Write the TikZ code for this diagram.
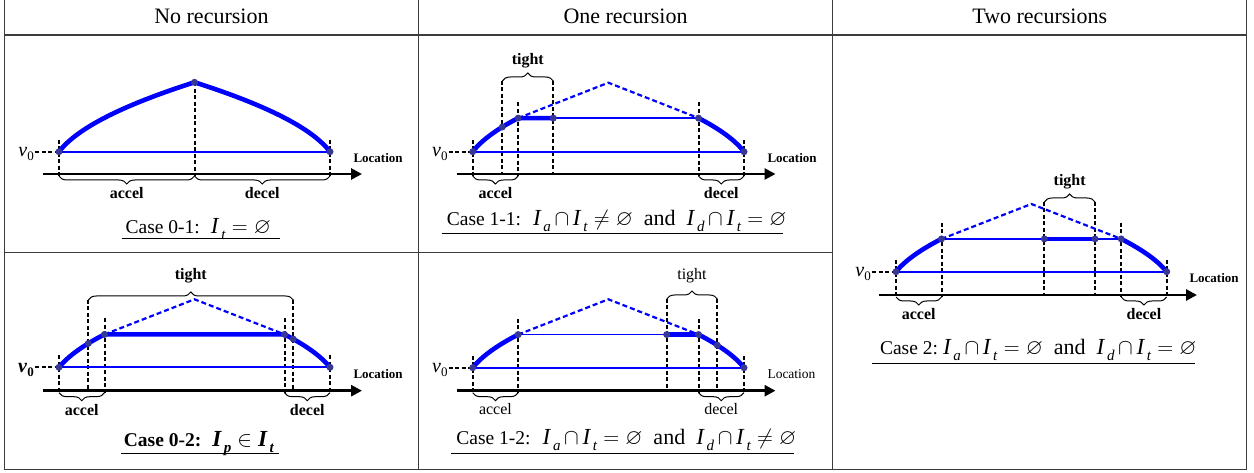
\documentclass[tikz,border=0pt]{standalone}
\usepackage{fix-cm}
\usepackage{fontspec}
\setmainfont{Liberation Serif}
\usepackage{amssymb}
\usetikzlibrary{arrows.meta,decorations.pathreplacing}
\definecolor{vblue}{RGB}{0,0,255}
\definecolor{dotblue}{RGB}{55,55,150}
\definecolor{gridc}{RGB}{60,60,60}
\pgfmathdeclarefunction{vel}{5}{%
  \begingroup\pgfmathparse{sqrt(#4*#4+(#1-#2)/#3*(#5*#5-#4*#4))}\pgfmathsmuggle\pgfmathresult\endgroup}
\newcommand\setpanel[5]{%
  \def\xa{#1}\def\xe{#2}\def\yb{#3}\def\va{#4}\def\vp{#5}%
  \pgfmathsetmacro\hl{(#2-#1)/2}%
  \pgfmathsetmacro\xp{(#1+#2)/2}%
  \pgfmathsetmacro\xk{#1+45.5}%
  \pgfmathsetmacro\xd{#2-45.5}%
  \pgfmathsetmacro\yk{#3-vel(\xk,#1,\hl,#4,#5)}%
  \pgfmathsetmacro\yv{#3-#4}%
  \pgfmathsetmacro\ypk{#3-#5}}
\newcommand\ya[1]{\yb-vel(#1,\xa,\hl,\va,\vp)}
\newcommand\yd[1]{\yb-vel(\xa+\xe-(#1),\xa,\hl,\va,\vp)}
\newcommand\M[1]{{\fontsize{22}{24}\selectfont#1}}
\newcommand\Iv[1]{{\fontsize{23}{24}\selectfont\textit{I}}\kern1.8pt\raisebox{-6pt}{\fontsize{15}{15}\selectfont\textit{#1}}}
\newcommand\vz{{\fontsize{20}{22}\selectfont\textit{v}}\raisebox{-4pt}{\fontsize{13}{13}\selectfont 0}}
\begin{document}
\begin{tikzpicture}[x=1pt,y=-1pt,
  thickv/.style={draw=vblue,line width=4.6pt,line join=round},
  thinv/.style={draw=vblue,line width=2pt},
  dashv/.style={draw=vblue,line width=2.2pt,dash pattern=on 5pt off 3pt},
  vdash/.style={draw=black,line width=2pt,dash pattern=on 4pt off 2.5pt},
  axisline/.style={draw=black,line width=2.8pt,-{Triangle[length=11pt,width=11pt]}},
  bracebelow/.style={draw=black,line width=1pt,decorate,decoration={brace,mirror,amplitude=8pt}},
  braceabove/.style={draw=black,line width=1pt,decorate,decoration={brace,amplitude=8pt}},
  dotc/.style={fill=dotblue,circle,inner sep=0pt,minimum size=7pt},
  tgrid/.style={draw=gridc,line width=1.4pt},
  hdr/.style={font=\fontsize{22}{24}\selectfont,anchor=base,inner sep=0pt},
  lab/.style={font=\fontsize{16}{18}\selectfont\bfseries,anchor=base,inner sep=0pt},
  labr/.style={font=\fontsize{16}{18}\selectfont,anchor=base,inner sep=0pt},
  loc/.style={font=\fontsize{13}{15}\selectfont\bfseries,anchor=base west,inner sep=0pt},
  locr/.style={font=\fontsize{13.5}{15}\selectfont,anchor=base west,inner sep=0pt},
  vlab/.style={anchor=base east,inner sep=0pt},
  capt/.style={font=\fontsize{19.5}{22}\selectfont,anchor=base,inner sep=0pt},
  uline/.style={draw=black,line width=0.9pt},
]
\useasboundingbox (0,0) rectangle (1254,473);
% ---------- table ----------
\draw[tgrid] (4.5,0) -- (4.5,469.3) -- (1246.7,469.3) -- (1246.7,0);
\draw[tgrid,line width=2pt] (4.5,35) -- (1246.7,35);
\draw[tgrid] (418.3,0) -- (418.3,469.3);
\draw[tgrid] (832.7,0) -- (832.7,469.3);
\draw[tgrid] (4.5,252.7) -- (832.7,252.7);
\node[hdr] (h1) at (211.4,24) {No recursion};
\node[hdr] (h2) at (625.5,24) {One recursion};
\node[hdr] (h3) at (1039.7,24) {Two recursions};

% ---------- Panel A: Case 0-1 ----------
\setpanel{59}{330}{174}{22.3}{91.7}
\coordinate (a-s) at (\xa,\yv);
\coordinate (a-p) at (\xp,\ypk);
\coordinate (a-e) at (\xe,\yv);
\coordinate (a-v) at (\xa-24,\yv);
\coordinate (a-x0) at (42.7,\yb);
\coordinate (a-x1) at (362,\yb);
\draw[vdash] (\xa,\yv-12) -- (\xa,\yb+2);
\draw[vdash] (a-p) -- (\xp,\yb+2);
\draw[vdash] (\xe,\yv-12) -- (\xe,\yb+2);
\draw[vdash] (a-v) -- (a-s);
\draw[bracebelow] (\xa,\yb+2) -- (\xp,\yb+2);
\draw[bracebelow] (\xp,\yb+2) -- (\xe,\yb+2);
\draw[thinv] (a-s) -- (a-e);
\draw[thickv] plot[domain=\xa:\xp,samples=40,variable=\t] (\t,{\ya{\t}});
\draw[thickv] plot[domain=\xp:\xe,samples=40,variable=\t] (\t,{\yd{\t}});
\foreach \c in {a-s,a-p,a-e} \node[dotc] at (\c) {};
\draw[axisline] (a-x0) -- (a-x1);
\node[vlab] (a-vl) at (\xa-25,\yv+5) {\vz};
\node[loc] (a-loc) at (353.3,162.7) {Location};
\node[lab] (a-acc) at ({(\xa+\xp)/2},199) {accel};
\node[lab] (a-dec) at ({(\xp+\xe)/2},199) {decel};
\node[capt] (a-cap) at (198.3,233.3) {Case 0-1:\hspace{11pt}\Iv{t}\M{$\;=\varnothing$}};
\draw[uline] (121.7,238.3) -- (280,238.3);

% ---------- Panel B: Case 1-1 ----------
\setpanel{472.7}{744}{174}{22.3}{91.3}
\coordinate (b-s) at (\xa,\yv);
\coordinate (b-p) at (\xp,\ypk);
\coordinate (b-e) at (\xe,\yv);
\coordinate (b-k) at (\xk,\yk);
\coordinate (b-d) at (\xd,\yk);
\coordinate (b-t1) at (502.3,{\ya{502.3}});
\coordinate (b-t2) at (553.3,\yk);
\coordinate (b-v) at (\xa-24,\yv);
\coordinate (b-x0) at (456.7,\yb);
\coordinate (b-x1) at (775.5,\yb);
\draw[vdash] (\xa,\yv-12) -- (\xa,\yb+2);
\draw[vdash] (502.3,81) -- (502.3,\yb);
\draw[vdash] (\xk,\yk-16) -- (\xk,\yb+2);
\draw[vdash] (553.3,81) -- (553.3,\yb);
\draw[vdash] (\xd,\yk-16) -- (\xd,\yb+2);
\draw[vdash] (\xe,\yv-12) -- (\xe,\yb+2);
\draw[vdash] (b-v) -- (b-s);
\draw[braceabove] (502.3,81) -- (553.3,81);
\draw[bracebelow] (\xa,\yb+2) -- (\xk,\yb+2);
\draw[bracebelow] (\xd,\yb+2) -- (\xe,\yb+2);
\draw[thinv] (b-s) -- (b-e);
\draw[thinv,line width=1.6pt] (b-t2) -- (b-d);
\draw[dashv] (b-k) -- (b-p) -- (b-d);
\draw[thickv] plot[domain=\xa:\xk,samples=30,variable=\t] (\t,{\ya{\t}}) -- (b-t2);
\draw[thickv] plot[domain=\xd:\xe,samples=30,variable=\t] (\t,{\yd{\t}});
\foreach \c in {b-s,b-t1,b-k,b-t2,b-d,b-e} \node[dotc] at (\c) {};
\draw[axisline] (b-x0) -- (b-x1);
\node[vlab] (b-vl) at (\xa-25,\yv+5) {\vz};
\node[loc] (b-loc) at (767.3,162.7) {Location};
\node[lab] (b-tig) at (527.8,65) {tight};
\node[lab] (b-acc) at ({(\xa+\xk)/2},199) {accel};
\node[lab] (b-dec) at ({(\xd+\xe)/2},199) {decel};
\node[capt] (b-cap) at (616.7,226) {Case 1-1:\hspace{12pt}\Iv{a}\M{$\,\cap\,$}\Iv{t}\M{$\;\neq\varnothing$\ \ and\ \ }\Iv{d}\M{$\,\cap\,$}\Iv{t}\M{$\;=\varnothing$}};
\draw[uline] (441.7,233.3) -- (783.3,233.3);

% ---------- Panel C: Case 2 ----------
\setpanel{896}{1166.7}{295}{23.3}{91}
\coordinate (c-s) at (\xa,\yv);
\coordinate (c-p) at (\xp,\ypk);
\coordinate (c-e) at (\xe,\yv);
\coordinate (c-k) at (\xk,\yk);
\coordinate (c-d) at (\xd,\yk);
\coordinate (c-t1) at (1044.3,\yk);
\coordinate (c-t2) at (1095,\yk);
\coordinate (c-v) at (\xa-24,\yv);
\coordinate (c-x0) at (879.3,\yb);
\coordinate (c-x1) at (1197,\yb);
\draw[vdash] (\xa,\yv-12) -- (\xa,\yb+2);
\draw[vdash] (\xk,\yk-16) -- (\xk,\yb+2);
\draw[vdash] (1044.3,202) -- (1044.3,\yb);
\draw[vdash] (1095,202) -- (1095,\yb);
\draw[vdash] (\xd,\yk-16) -- (\xd,\yb+2);
\draw[vdash] (\xe,\yv-12) -- (\xe,\yb+2);
\draw[vdash] (c-v) -- (c-s);
\draw[braceabove] (1044.3,202) -- (1095,202);
\draw[bracebelow] (\xa,\yb+2) -- (\xk,\yb+2);
\draw[bracebelow] (\xd,\yb+2) -- (\xe,\yb+2);
\draw[thinv] (c-s) -- (c-e);
\draw[thinv,line width=1.6pt] (c-k) -- (c-t1);
\draw[thinv,line width=1.6pt] (c-t2) -- (c-d);
\draw[dashv] (c-k) -- (c-p) -- (c-d);
\draw[thickv] plot[domain=\xa:\xk,samples=30,variable=\t] (\t,{\ya{\t}});
\draw[thickv] (c-t1) -- (c-t2);
\draw[thickv] plot[domain=\xd:\xe,samples=30,variable=\t] (\t,{\yd{\t}});
\foreach \c in {c-s,c-k,c-t1,c-t2,c-d,c-e} \node[dotc] at (\c) {};
\draw[axisline] (c-x0) -- (c-x1);
\node[vlab] (c-vl) at (\xa-25,\yv+5) {\vz};
\node[loc] (c-loc) at (1189.3,282.7) {Location};
\node[lab] (c-tig) at (1069.7,185.7) {tight};
\node[lab] (c-acc) at ({(\xa+\xk)/2},319.3) {accel};
\node[lab] (c-dec) at ({(\xd+\xe)/2},319.3) {decel};
\node[capt] (c-cap) at (1038.3,354) {Case 2:\hspace{5pt}\Iv{a}\M{$\,\cap\,$}\Iv{t}\M{$\;=\varnothing$\ \ and\ \ }\Iv{d}\M{$\,\cap\,$}\Iv{t}\M{$\;=\varnothing$}};
\draw[uline] (872.3,363.3) -- (1195,363.3);

% ---------- Panel D: Case 0-2 ----------
\setpanel{59}{330}{390.7}{23.4}{91.4}
\coordinate (d-s) at (\xa,\yv);
\coordinate (d-p) at (\xp,\ypk);
\coordinate (d-e) at (\xe,\yv);
\coordinate (d-k) at (\xk,\yk);
\coordinate (d-d) at (\xd,\yk);
\coordinate (d-t1) at (88.3,{\ya{88.3}});
\coordinate (d-t2) at (293.3,{\yd{293.3}});
\coordinate (d-v) at (\xa-24,\yv);
\coordinate (d-x0) at (42.7,\yb);
\coordinate (d-x1) at (362,\yb);
\draw[vdash] (\xa,\yv-12) -- (\xa,\yb+2);
\draw[vdash] (88.3,300) -- (88.3,\yb);
\draw[vdash] (\xk,\yk-16) -- (\xk,\yb+2);
\draw[vdash] (\xd,\yk-16) -- (\xd,\yb+2);
\draw[vdash] (293.3,300) -- (293.3,\yb);
\draw[vdash] (\xe,\yv-12) -- (\xe,\yb+2);
\draw[vdash] (d-v) -- (d-s);
\draw[braceabove] (88.3,300) -- (293.3,300);
\draw[bracebelow] (\xa,\yb+2) -- (\xk,\yb+2);
\draw[bracebelow] (\xd,\yb+2) -- (\xe,\yb+2);
\draw[thinv] (d-s) -- (d-e);
\draw[dashv] (d-k) -- (d-p) -- (d-d);
\draw[thickv] plot[domain=\xa:\xk,samples=30,variable=\t] (\t,{\ya{\t}}) -- (d-d);
\draw[thickv] plot[domain=\xd:\xe,samples=30,variable=\t] (\t,{\yd{\t}});
\foreach \c in {d-s,d-t1,d-k,d-d,d-t2,d-e} \node[dotc] at (\c) {};
\draw[axisline] (d-x0) -- (d-x1);
\node[vlab,font=\bfseries] (d-vl) at (\xa-25,\yv+5) {\vz};
\node[loc] (d-loc) at (353.3,378.3) {Location};
\node[lab] (d-tig) at (190.8,280) {tight};
\node[lab] (d-acc) at ({(\xa+\xk)/2},415) {accel};
\node[lab] (d-dec) at ({(\xd+\xe)/2},415) {decel};
\node[capt,font=\fontsize{19.5}{22}\selectfont\bfseries] (d-cap) at (199,446.7) {Case 0-2:\hspace{11pt}\Iv{p}\M{$\;\in\;$}\Iv{t}};
\draw[uline] (121,453.3) -- (279.3,453.3);

% ---------- Panel E: Case 1-2 ----------
\setpanel{472.7}{744}{390.7}{23}{91.4}
\coordinate (e-s) at (\xa,\yv);
\coordinate (e-p) at (\xp,\ypk);
\coordinate (e-e) at (\xe,\yv);
\coordinate (e-k) at (\xk,\yk);
\coordinate (e-d) at (\xd,\yk);
\coordinate (e-t1) at (666.7,\yk);
\coordinate (e-t2) at (717.3,{\yd{717.3}});
\coordinate (e-v) at (\xa-24,\yv);
\coordinate (e-x0) at (456.7,\yb);
\coordinate (e-x1) at (775.5,\yb);
\draw[vdash] (\xa,\yv-12) -- (\xa,\yb+2);
\draw[vdash] (\xk,\yk-16) -- (\xk,\yb+2);
\draw[vdash] (666.7,299) -- (666.7,\yb);
\draw[vdash] (\xd,\yk-16) -- (\xd,\yb+2);
\draw[vdash] (717.3,299) -- (717.3,\yb);
\draw[vdash] (\xe,\yv-12) -- (\xe,\yb+2);
\draw[vdash] (e-v) -- (e-s);
\draw[braceabove] (666.7,299) -- (717.3,299);
\draw[bracebelow] (\xa,\yb+2) -- (\xk,\yb+2);
\draw[bracebelow] (\xd,\yb+2) -- (\xe,\yb+2);
\draw[thinv] (e-s) -- (e-e);
\draw[thinv,line width=1.6pt] (e-k) -- (e-t1);
\draw[dashv] (e-k) -- (e-p) -- (e-d);
\draw[thickv] plot[domain=\xa:\xk,samples=30,variable=\t] (\t,{\ya{\t}});
\draw[thickv] (e-t1) -- (e-d);
\draw[thickv] plot[domain=\xd:\xe,samples=30,variable=\t] (\t,{\yd{\t}});
\foreach \c in {e-s,e-k,e-t1,e-d,e-t2,e-e} \node[dotc] at (\c) {};
\draw[axisline] (e-x0) -- (e-x1);
\node[vlab] (e-vl) at (\xa-25,\yv+5) {\vz};
\node[locr] (e-loc) at (767.3,378.3) {Location};
\node[labr] (e-tig) at (692,280) {tight};
\node[labr] (e-acc) at ({(\xa+\xk)/2},414.3) {accel};
\node[labr] (e-dec) at ({(\xd+\xe)/2},414.3) {decel};
\node[capt] (e-cap) at (626.3,444) {Case 1-2:\hspace{12pt}\Iv{a}\M{$\,\cap\,$}\Iv{t}\M{$\;=\varnothing$\ \ and\ \ }\Iv{d}\M{$\,\cap\,$}\Iv{t}\M{$\;\neq\varnothing$}};
\draw[uline] (451,453.3) -- (794,453.3);
\end{tikzpicture}
\end{document}
